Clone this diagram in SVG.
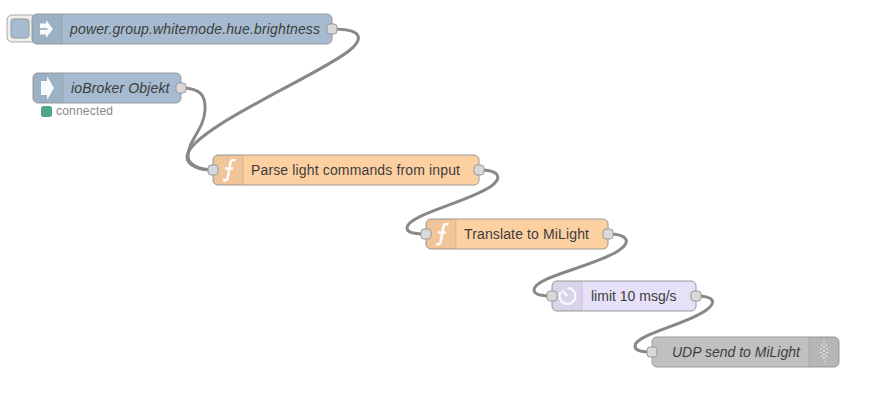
<svg xmlns="http://www.w3.org/2000/svg" width="885" height="405" viewBox="0 0 885 405">
<style>
text{font-family:"Liberation Sans",Arial,sans-serif;font-size:14px;fill:#3d3d3d}
.it{font-style:italic}
.body{stroke:#999;stroke-width:1}
.tab{fill:#000;fill-opacity:.05}
.sep{stroke:#000;stroke-opacity:.1;stroke-width:1}
.port{fill:#d9d9d9;stroke:#999;stroke-width:1}
.wire{fill:none;stroke:#888;stroke-width:3}
.icon{fill:#fff;fill-opacity:.92}
.fn{fill:none;stroke:#fff;stroke-width:2.600;stroke-opacity:.92}
.dot{fill:#fff;fill-opacity:.85}
</style>
<rect width="885" height="405" fill="#fff"/>
<g id="connectors">
<path class="wire" d="M332,29 C362,29 364,38 350,50 C322,74 187,130 187,157 C187,166 200,170 213,170"/>
<path class="wire" d="M181,88 C200,88 206,95 205,110 C204,130 188,140 188,156 C188,165 200,170 213,170"/>
<path class="wire" d="M479,170 C500,170 503,178 490,187 C465,203 407,215 407,228 C407,233 415,234 426,234"/>
<path class="wire" d="M608,234 C628,234 632,242 618,251 C595,266 534,277 534,290 C534,295 542,296 552,296"/>
<path class="wire" d="M696,296 C714,296 718,302 705,311 C684,325 635,335 635,346 C635,351 642,352 652,352"/>
</g>
<g id="inject-node">
<rect x="7" y="15" width="30" height="27" rx="5" fill="#eeeeee" stroke="#aaa"/>
<rect x="11" y="19" width="18" height="19" rx="3" fill="#a6bbcf" stroke="#999"/>
<rect class="body" x="32" y="14" width="300" height="30" rx="5" fill="#a6bbcf"/>
<path class="tab" d="M37,14H62V44H37a5,5 0 0 1 -5,-5V19a5,5 0 0 1 5,-5Z"/>
<path class="sep" d="M62,15V43"/>
<path class="icon" d="M40,23.500H46V20L53,29L46,38V34.500H40Z"/>
<path d="M40,29H47.500" stroke="#a6bbcf" stroke-width="2"/>
<text class="it" x="70" y="33.500" textLength="250" lengthAdjust="spacing">power.group.whitemode.hue.brightness</text>
<rect class="port" x="327" y="24" width="10" height="10" rx="3"/>
</g>
<g id="iobroker-node">
<rect class="body" x="33" y="73" width="148" height="30" rx="5" fill="#a6bbcf"/>
<path class="tab" d="M38,73H63V103H38a5,5 0 0 1 -5,-5V78a5,5 0 0 1 5,-5Z"/>
<path class="sep" d="M63,74V102"/>
<path class="icon" d="M41,81H47V76L54,88L47,100V95H41Z"/>
<text class="it" x="71" y="92.500" textLength="98.500" lengthAdjust="spacing">ioBroker Objekt</text>
<rect class="port" x="176" y="83" width="10" height="10" rx="3"/>
<rect x="41" y="106" width="11" height="11" rx="2.500" fill="#4fa884"/>
<text x="56" y="115" textLength="57" style="font-size:12px;fill:#888">connected</text>
</g>
<g id="parse-node">
<rect class="body" x="213" y="155" width="266" height="30" rx="5" fill="#fdd0a2"/>
<path class="tab" d="M218,155H243V185H218a5,5 0 0 1 -5,-5V160a5,5 0 0 1 5,-5Z"/>
<path class="sep" d="M243,156V184"/>
<path class="fn" d="M235.500,160.500C232,159 230.500,160.500 230,165L228,176C227.500,180 226,181 223,180M225,168.500H233"/>
<text x="251" y="174.500" textLength="209" lengthAdjust="spacing">Parse light commands from input</text>
<rect class="port" x="208" y="165" width="10" height="10" rx="3" style="fill:#d3d9e3"/>
<rect class="port" x="474" y="165" width="10" height="10" rx="3"/>
</g>
<g id="translate-node">
<rect class="body" x="426" y="219" width="182" height="30" rx="5" fill="#fdd0a2"/>
<path class="tab" d="M431,219H456V249H431a5,5 0 0 1 -5,-5V224a5,5 0 0 1 5,-5Z"/>
<path class="sep" d="M456,220V248"/>
<path class="fn" d="M448.500,224.500C445,223 443.500,224.500 443,229L441,240C440.500,244 439,245 436,244M438,232.500H446"/>
<text x="464" y="238.500" textLength="125" lengthAdjust="spacing">Translate to MiLight</text>
<rect class="port" x="421" y="229" width="10" height="10" rx="3"/>
<rect class="port" x="603" y="229" width="10" height="10" rx="3"/>
</g>
<g id="limit-node">
<rect class="body" x="552" y="281" width="144" height="30" rx="5" fill="#e6e0f8"/>
<path class="tab" d="M557,281H582V311H557a5,5 0 0 1 -5,-5V286a5,5 0 0 1 5,-5Z"/>
<path class="sep" d="M582,282V310"/>
<path d="M567.500,288A8,8 0 1 1 560.500,292M567.500,296L562,290.500" fill="none" stroke="#fff" stroke-width="2" stroke-opacity=".9"/>
<text x="591" y="300.500">limit 10 msg/s</text>
<rect class="port" x="547" y="291" width="10" height="10" rx="3"/>
<rect class="port" x="691" y="291" width="10" height="10" rx="3"/>
</g>
<g id="udp-node">
<rect class="body" x="652" y="337" width="187" height="30" rx="5" fill="#c0c0c0"/>
<path class="tab" d="M809,337H834a5,5 0 0 1 5,5V362a5,5 0 0 1 -5,5H809Z"/>
<path class="sep" d="M809,338V366"/>
<g id="udp-icon">
<circle class="dot" cx="824" cy="340.500" r=".7"/><circle class="dot" cx="824" cy="344" r=".8"/><circle class="dot" cx="824" cy="347.500" r=".8"/><circle class="dot" cx="824" cy="351" r=".9"/><circle class="dot" cx="824" cy="354.500" r=".8"/><circle class="dot" cx="824" cy="358" r=".8"/><circle class="dot" cx="825" cy="361.500" r=".7"/>
<circle class="dot" cx="821.500" cy="345.500" r=".7"/><circle class="dot" cx="821" cy="349" r=".8"/><circle class="dot" cx="821" cy="352.500" r=".8"/><circle class="dot" cx="822" cy="356" r=".7"/>
<circle class="dot" cx="826.500" cy="345.500" r=".7"/><circle class="dot" cx="827" cy="349" r=".8"/><circle class="dot" cx="827" cy="352.500" r=".8"/><circle class="dot" cx="826.500" cy="356" r=".7"/>
</g>
<text class="it" x="672" y="356.500">UDP send to MiLight</text>
<rect class="port" x="647" y="347" width="10" height="10" rx="3"/>
</g>
</svg>
